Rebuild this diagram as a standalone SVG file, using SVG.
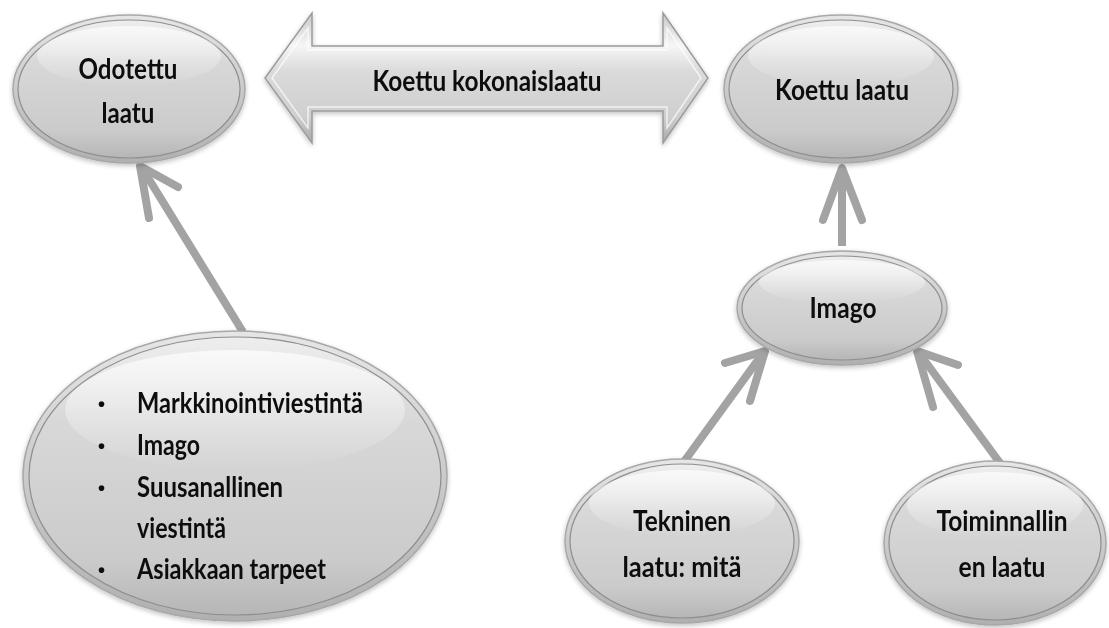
<svg xmlns="http://www.w3.org/2000/svg" width="1109" height="628" viewBox="0 0 1109 628">
<defs>
  <linearGradient id="fillGrad" x1="0" y1="0" x2="0" y2="1">
    <stop offset="0" stop-color="#eeeeee"/>
    <stop offset="0.3" stop-color="#d8d8d8"/>
    <stop offset="0.8" stop-color="#cbcbcb"/>
    <stop offset="1" stop-color="#b6b6b6"/>
  </linearGradient>
  <linearGradient id="ringGrad" x1="0" y1="0" x2="0" y2="1">
    <stop offset="0" stop-color="#e6e6e6"/>
    <stop offset="1" stop-color="#b0b0b0"/>
  </linearGradient>
  <linearGradient id="hiGrad" x1="0" y1="0" x2="0" y2="1">
    <stop offset="0" stop-color="#ffffff" stop-opacity="0.7"/>
    <stop offset="1" stop-color="#ffffff" stop-opacity="0"/>
  </linearGradient>
  <linearGradient id="arrowGrad" x1="0" y1="0" x2="0" y2="1">
    <stop offset="0" stop-color="#c8c8c8"/>
    <stop offset="0.25" stop-color="#f6f6f6"/>
    <stop offset="0.45" stop-color="#dadada"/>
    <stop offset="0.8" stop-color="#cfcfcf"/>
    <stop offset="1" stop-color="#a9a9a9"/>
  </linearGradient>
  <filter id="shadow" x="-10%" y="-10%" width="120%" height="125%">
    <feGaussianBlur in="SourceAlpha" stdDeviation="2.5"/>
    <feOffset dx="0" dy="2" result="b"/>
    <feComponentTransfer><feFuncA type="linear" slope="0.25"/></feComponentTransfer>
    <feMerge><feMergeNode/><feMergeNode in="SourceGraphic"/></feMerge>
  </filter>
</defs>
<style>
  .ring { fill: url(#ringGrad); stroke: #a8a8a8; stroke-width: 1.5; }
  .body { fill: url(#fillGrad); stroke: #8e8e8e; stroke-width: 1.2; }
  .hi { fill: url(#hiGrad); }
  .t { font-family: Lato, "Open Sans", "Liberation Sans", sans-serif; font-weight: 700; font-size: 29px; fill: #111111; }
  .b { font-family: "Liberation Sans", sans-serif; font-weight: 700; font-size: 20px; fill: #111111; }
  .mid { text-anchor: middle; }
  .conn { fill: none; stroke: #a3a3a3; stroke-width: 8; stroke-linecap: round; stroke-linejoin: round; }
  .shaft { fill: none; stroke: #a3a3a3; stroke-width: 8; stroke-linecap: butt; }
</style>
<rect width="1109" height="628" fill="#ffffff"/>

<g id="connectors">
  <line class="shaft" x1="243" y1="332" x2="142" y2="168"/>
  <polyline class="conn" points="178,187 140,166 149,218"/>
  <line class="shaft" x1="842" y1="246" x2="842" y2="170"/>
  <polyline class="conn" points="823,220 842,168 862,220"/>
  <line class="shaft" x1="683" y1="463" x2="763" y2="353"/>
  <polyline class="conn" points="725,363 765,351 750,401"/>
  <line class="shaft" x1="1000" y1="463" x2="919" y2="353"/>
  <polyline class="conn" points="958,365 917,351 933,407"/>
</g>

<g id="arrow-kokonaislaatu" filter="url(#shadow)">
  <polygon points="265,78 312,13 312,46 663,46 663,13 708,78 663,143 663,111 312,111 312,143" fill="url(#arrowGrad)" stroke="#9c9c9c" stroke-width="1.5"/>
  <polygon points="272,78 308,28 308,50 667,50 667,28 701,78 667,128 667,107 308,107 308,128" fill="none" stroke="#ffffff" stroke-opacity="0.7" stroke-width="1.5"/>
  <text class="t mid" x="487" y="91" font-size="31" textLength="229" lengthAdjust="spacingAndGlyphs">Koettu kokonaislaatu</text>
</g>

<g id="node-odotettu" filter="url(#shadow)">
  <ellipse class="ring" cx="129" cy="89" rx="116" ry="74"/>
  <ellipse class="body" cx="129" cy="89" rx="111" ry="69"/>
  <ellipse class="hi" cx="129" cy="56" rx="92" ry="30"/>
  <text class="t mid" x="128" y="79" textLength="99" lengthAdjust="spacingAndGlyphs">Odotettu</text>
  <text class="t mid" x="128" y="123" textLength="53" lengthAdjust="spacingAndGlyphs">laatu</text>
</g>

<g id="node-koettu" filter="url(#shadow)">
  <ellipse class="ring" cx="841" cy="89" rx="117" ry="74"/>
  <ellipse class="body" cx="841" cy="89" rx="112" ry="69"/>
  <ellipse class="hi" cx="841" cy="56" rx="93" ry="30"/>
  <text class="t mid" x="842" y="100" textLength="134" lengthAdjust="spacingAndGlyphs">Koettu laatu</text>
</g>

<g id="node-imago" filter="url(#shadow)">
  <ellipse class="ring" cx="842" cy="308" rx="105" ry="57"/>
  <ellipse class="body" cx="842" cy="308" rx="100" ry="52"/>
  <ellipse class="hi" cx="842" cy="282" rx="83" ry="22"/>
  <text class="t mid" x="843" y="318" textLength="67" lengthAdjust="spacingAndGlyphs">Imago</text>
</g>

<g id="node-tekijat" filter="url(#shadow)">
  <ellipse class="ring" cx="235" cy="476" rx="212" ry="145"/>
  <ellipse class="body" cx="235" cy="476" rx="206" ry="139"/>
  <ellipse class="hi" cx="235" cy="410" rx="170" ry="60"/>
  <g>
    <text class="b" x="98" y="411">•</text>
    <text class="t" x="137" y="413" textLength="226" lengthAdjust="spacingAndGlyphs">Markkinointiviestintä</text>
    <text class="b" x="98" y="453">•</text>
    <text class="t" x="137" y="455" textLength="63" lengthAdjust="spacingAndGlyphs">Imago</text>
    <text class="b" x="98" y="495">•</text>
    <text class="t" x="137" y="497" textLength="146" lengthAdjust="spacingAndGlyphs">Suusanallinen</text>
    <text class="t" x="137" y="538" textLength="89" lengthAdjust="spacingAndGlyphs">viestintä</text>
    <text class="b" x="98" y="577">•</text>
    <text class="t" x="137" y="579" textLength="189" lengthAdjust="spacingAndGlyphs">Asiakkaan tarpeet</text>
  </g>
</g>

<g id="node-tekninen" filter="url(#shadow)">
  <ellipse class="ring" cx="682" cy="541" rx="117" ry="82"/>
  <ellipse class="body" cx="682" cy="541" rx="112" ry="77"/>
  <ellipse class="hi" cx="682" cy="503" rx="93" ry="33"/>
  <text class="t mid" x="682" y="531" textLength="98" lengthAdjust="spacingAndGlyphs">Tekninen</text>
  <text class="t mid" x="682" y="577" textLength="119" lengthAdjust="spacingAndGlyphs">laatu: mitä</text>
</g>

<g id="node-toiminnallinen" filter="url(#shadow)">
  <ellipse class="ring" cx="995" cy="543" rx="111" ry="82"/>
  <ellipse class="body" cx="995" cy="543" rx="106" ry="77"/>
  <ellipse class="hi" cx="995" cy="505" rx="88" ry="33"/>
  <text class="t mid" x="1002" y="531" textLength="131" lengthAdjust="spacingAndGlyphs">Toiminnallin</text>
  <text class="t mid" x="1002" y="577" textLength="87" lengthAdjust="spacingAndGlyphs">en laatu</text>
</g>
</svg>
